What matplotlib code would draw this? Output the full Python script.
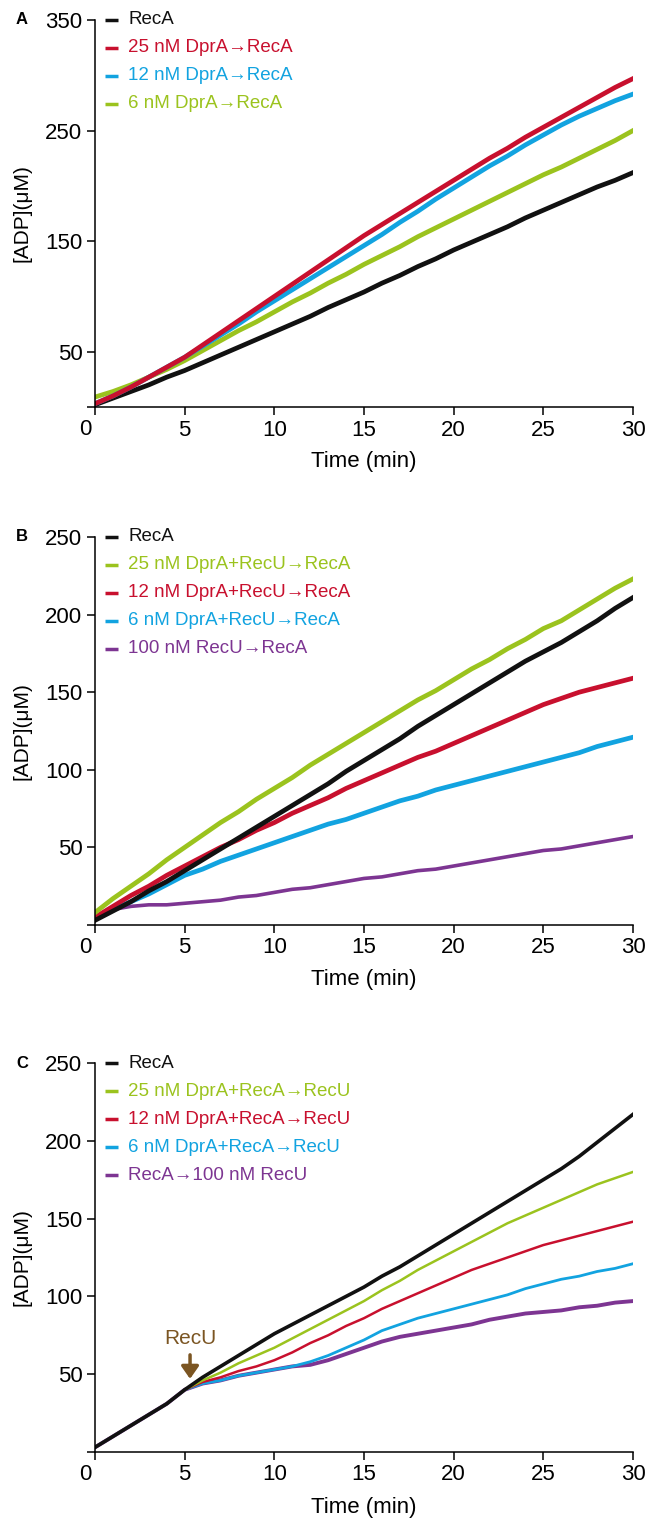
import numpy as np
import matplotlib.pyplot as plt
from matplotlib.transforms import offset_copy

plt.rcParams['font.family'] = ['Liberation Sans', 'DejaVu Sans']

# time axis (min), one reading per minute
time = np.arange(31)

# panel A: DprA preincubated with ssDNA, then RecA
a_reca = [2, 8, 14, 20, 27, 33, 40, 47, 54, 61, 68, 75, 82, 90, 97, 104, 112, 119, 127, 134,
          142, 149, 156, 163, 171, 178, 185, 192, 199, 205, 212]
a_dpra25 = [3, 10, 18, 27, 36, 45, 56, 67, 78, 89, 100, 111, 122, 133, 144, 155, 165, 175, 185, 195,
            205, 215, 225, 234, 244, 253, 262, 271, 280, 289, 297]
a_dpra12 = [3, 10, 18, 27, 36, 45, 55, 65, 75, 86, 96, 106, 116, 126, 136, 146, 156, 167, 177, 188,
            198, 208, 218, 227, 237, 246, 255, 263, 270, 277, 283]
a_dpra6 = [9, 14, 20, 27, 34, 42, 51, 60, 69, 77, 86, 95, 103, 112, 120, 129, 137, 145, 154, 162,
           170, 178, 186, 194, 202, 210, 217, 225, 233, 241, 250]

# panel B: DprA + RecU, then RecA
b_reca = [3, 9, 15, 22, 28, 35, 42, 49, 56, 63, 70, 77, 84, 91, 99, 106, 113, 120, 128, 135,
          142, 149, 156, 163, 170, 176, 182, 189, 196, 204, 211]
b_dpra25 = [8, 17, 25, 33, 42, 50, 58, 66, 73, 81, 88, 95, 103, 110, 117, 124, 131, 138, 145, 151,
            158, 165, 171, 178, 184, 191, 196, 203, 210, 217, 223]
b_dpra12 = [5, 12, 19, 25, 32, 38, 44, 50, 55, 61, 66, 72, 77, 82, 88, 93, 98, 103, 108, 112,
            117, 122, 127, 132, 137, 142, 146, 150, 153, 156, 159]
b_dpra6 = [5, 10, 15, 20, 26, 32, 36, 41, 45, 49, 53, 57, 61, 65, 68, 72, 76, 80, 83, 87,
           90, 93, 96, 99, 102, 105, 108, 111, 115, 118, 121]
b_recu = [5, 10, 12, 13, 13, 14, 15, 16, 18, 19, 21, 23, 24, 26, 28, 30, 31, 33, 35, 36,
          38, 40, 42, 44, 46, 48, 49, 51, 53, 55, 57]

# panel C: RecA (+DprA) first, RecU added at 5 min
c_reca = [3, 10, 17, 24, 31, 40, 48, 55, 62, 69, 76, 82, 88, 94, 100, 106, 113, 119, 126, 133,
          140, 147, 154, 161, 168, 175, 182, 190, 199, 208, 217]
c_dpra25 = [3, 10, 17, 24, 31, 40, 46, 51, 57, 62, 67, 73, 79, 85, 91, 97, 104, 110, 117, 123,
            129, 135, 141, 147, 152, 157, 162, 167, 172, 176, 180]
c_dpra12 = [3, 10, 17, 24, 31, 40, 45, 48, 52, 55, 59, 64, 70, 75, 81, 86, 92, 97, 102, 107,
            112, 117, 121, 125, 129, 133, 136, 139, 142, 145, 148]
c_dpra6 = [3, 10, 17, 24, 31, 40, 44, 46, 49, 51, 53, 55, 58, 62, 67, 72, 78, 82, 86, 89,
           92, 95, 98, 101, 105, 108, 111, 113, 116, 118, 121]
c_recu = [3, 10, 17, 24, 31, 40, 44, 46, 49, 51, 53, 55, 56, 59, 63, 67, 71, 74, 76, 78,
          80, 82, 85, 87, 89, 90, 91, 93, 94, 96, 97]

BLACK = '#111111'
RED = '#c8102e'
BLUE = '#12a3e0'
GREEN = '#9bc31e'
PURPLE = '#7d3592'
BROWN = '#7b5522'

W, H = 649, 1518
fig = plt.figure(figsize=(W / 100, H / 100), dpi=100)


def make_axes(top, bottom, left=95, right=633):
    return fig.add_axes([left / W, 1 - bottom / H, (right - left) / W, (bottom - top) / H])


def style(ax, ymax, yticks, top, bottom, letter):
    ax.set_xlim(0, 30)
    ax.set_ylim(0, ymax)
    ax.spines[['top', 'right']].set_visible(False)
    for s in ax.spines.values():
        s.set_linewidth(1.1)
    ax.set_xticks(range(0, 31, 5))
    ax.set_xticklabels([''] + [str(v) for v in range(5, 31, 5)])
    ax.set_yticks([0] + yticks)
    ax.set_yticklabels([''] + [str(v) for v in yticks])
    ax.tick_params(direction='out', length=6, width=1.1, labelsize=16, pad=3)
    # the "0" sits a bit left of the corner
    tr = offset_copy(ax.transData, fig=fig, x=-10, y=-12, units='dots')
    ax.text(0, 0, '0', transform=tr, ha='center', va='top', fontsize=16)
    fig.text(364 / W, 1 - (bottom + 55) / H, 'Time (min)', ha='center', va='center', fontsize=16)
    fig.text(22 / W, 1 - (top + bottom) / 2 / H, '[ADP](μM)', rotation=90,
             ha='center', va='center', fontsize=15)
    fig.text(22 / W, 1 - top / H, letter, ha='center', va='center', fontsize=12, fontweight='bold')


def legend(ax, top, bottom, entries):
    for i, (label, color) in enumerate(entries):
        y = (bottom - (top + i * 28)) / (bottom - top)
        ax.plot([10 / 538, 23 / 538], [y, y], color=color, lw=2.5,
                transform=ax.transAxes, clip_on=False, solid_capstyle='butt')
        ax.text(33 / 538, y, label, color=color, fontsize=13.5, ha='left', va='center',
                transform=ax.transAxes)


# ---- A ----
axA = make_axes(20, 407)
axA.plot(time, a_reca, color=BLACK, lw=3.4)
axA.plot(time, a_dpra6, color=GREEN, lw=3.4)
axA.plot(time, a_dpra12, color=BLUE, lw=3.4)
axA.plot(time, a_dpra25, color=RED, lw=3.4)
style(axA, 350, [50, 150, 250, 350], 20, 407, 'A')
legend(axA, 20, 407, [('RecA', BLACK), ('25 nM DprA→RecA', RED),
                      ('12 nM DprA→RecA', BLUE), ('6 nM DprA→RecA', GREEN)])

# ---- B ----
axB = make_axes(537, 925)
axB.plot(time, b_recu, color=PURPLE, lw=2.6)
axB.plot(time, b_dpra6, color=BLUE, lw=3.4)
axB.plot(time, b_dpra12, color=RED, lw=3.4)
axB.plot(time, b_reca, color=BLACK, lw=3.4)
axB.plot(time, b_dpra25, color=GREEN, lw=3.4)
style(axB, 250, [50, 100, 150, 200, 250], 537, 925, 'B')
legend(axB, 537, 925, [('RecA', BLACK), ('25 nM DprA+RecU→RecA', GREEN),
                       ('12 nM DprA+RecU→RecA', RED), ('6 nM DprA+RecU→RecA', BLUE),
                       ('100 nM RecU→RecA', PURPLE)])

# ---- C ----
axC = make_axes(1063, 1452)
axC.plot(time, c_recu, color=PURPLE, lw=2.8)
axC.plot(time, c_dpra6, color=BLUE, lw=2.0)
axC.plot(time, c_dpra12, color=RED, lw=1.8)
axC.plot(time, c_dpra25, color=GREEN, lw=1.8)
axC.plot(time, c_reca, color=BLACK, lw=2.6)
style(axC, 250, [50, 100, 150, 200, 250], 1063, 1452, 'C')
legend(axC, 1063, 1452, [('RecA', BLACK), ('25 nM DprA+RecA→RecU', GREEN),
                         ('12 nM DprA+RecA→RecU', RED), ('6 nM DprA+RecA→RecU', BLUE),
                         ('RecA→100 nM RecU', PURPLE)])
axC.annotate('RecU', xy=(5.3, 47), xytext=(5.3, 73), ha='center', va='center',
             color=BROWN, fontsize=15,
             arrowprops=dict(arrowstyle='-|>,head_width=0.35,head_length=0.5',
                             color=BROWN, lw=2.5, shrinkA=3, shrinkB=0))

fig.savefig('out.png', dpi=100)
